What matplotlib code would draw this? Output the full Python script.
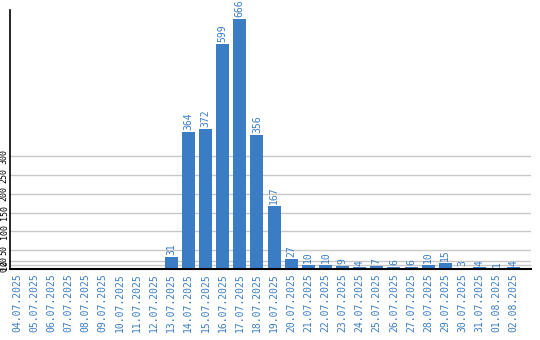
import matplotlib
matplotlib.use("Agg")
import matplotlib.pyplot as plt

dates = ["04.07.2025", "05.07.2025", "06.07.2025", "07.07.2025", "08.07.2025",
         "09.07.2025", "10.07.2025", "11.07.2025", "12.07.2025", "13.07.2025",
         "14.07.2025", "15.07.2025", "16.07.2025", "17.07.2025", "18.07.2025",
         "19.07.2025", "20.07.2025", "21.07.2025", "22.07.2025", "23.07.2025",
         "24.07.2025", "25.07.2025", "26.07.2025", "27.07.2025", "28.07.2025",
         "29.07.2025", "30.07.2025", "31.07.2025", "01.08.2025", "02.08.2025"]
counts = [0, 0, 0, 0, 0, 0, 0, 0, 0, 31,
          364, 372, 599, 666, 356, 167, 27, 10, 10, 9,
          4, 7, 6, 6, 10, 15, 3, 4, 1, 4]
yticks = [0, 10, 20, 50, 100, 150, 200, 250, 300]

blue = "#3b7dc4"
mono = "DejaVu Sans Mono"

fig = plt.figure(figsize=(5.4, 3.4), dpi=100)
ax = fig.add_axes([10 / 540, 71 / 340, 521 / 540, 259 / 340])

x = list(range(len(dates)))
ax.bar(x, counts, width=0.76, color=blue, zorder=2)

for xi, v in zip(x, counts):
    if v > 0:
        ax.text(xi, v + 5, str(v), rotation=90, ha="center", va="bottom",
                color=blue, fontsize=7, family=mono)

ax.set_xlim(-0.41, 30.0)
ax.set_ylim(0, 690)
ax.set_yticks(yticks)
ax.set_yticklabels([str(t) for t in yticks], rotation=90, va="center",
                   fontsize=6, family=mono)
ax.set_xticks(x)
ax.set_xticklabels(dates, rotation=90, color=blue, fontsize=7, family=mono)
ax.tick_params(axis="x", length=0, pad=3)
ax.tick_params(axis="y", length=0, pad=1)
ax.grid(axis="y", color="#c8c8c8", linewidth=1, zorder=0)

for side in ["top", "right"]:
    ax.spines[side].set_visible(False)
ax.spines["left"].set_linewidth(1.2)
ax.spines["bottom"].set_linewidth(1.5)

fig.savefig("out.png", dpi=100)
